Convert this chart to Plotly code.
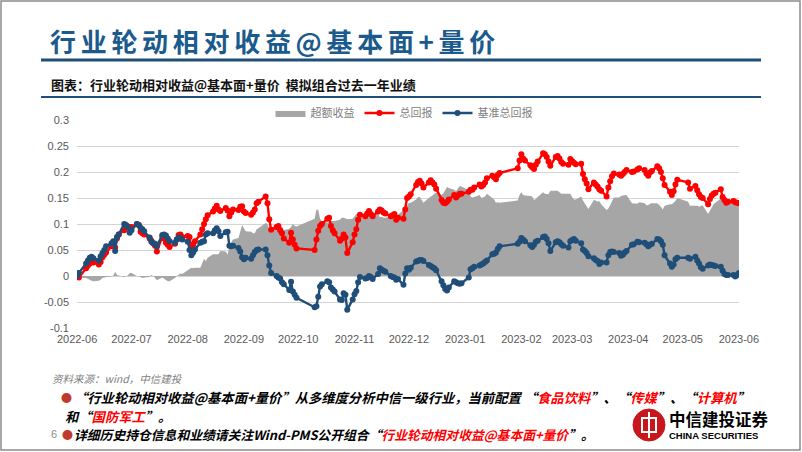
import pandas as pd
import plotly.graph_objects as go

# ---------------- data ----------------
holidays = ["2022-06-03", "2022-09-12", "2022-10-03", "2022-10-04", "2022-10-05",
            "2022-10-06", "2022-10-07", "2023-01-02", "2023-01-23", "2023-01-24",
            "2023-01-25", "2023-01-26", "2023-01-27", "2023-04-05", "2023-05-01",
            "2023-05-02", "2023-05-03"]
trade_dates = [d for d in pd.bdate_range("2022-06-01", "2023-06-01")
               if d.strftime("%Y-%m-%d") not in holidays]

total_return = [
    # 2022-06
    0, -0.003, 0.015, 0.02, 0.024, 0.028, 0.026, 0.022, 0.027, 0.036, 0.041, 0.045, 0.057, 0.064, 0.055, 0.072, 0.08, 0.088, 0.097, 0.095, 0.092,
    # 2022-07
    0.094, 0.1, 0.098, 0.085, 0.082, 0.08, 0.072, 0.068, 0.063, 0.058, 0.047, 0.076, 0.072, 0.064, 0.06, 0.056, 0.062, 0.07, 0.079, 0.08, 0.075,
    # 2022-08
    0.077, 0.075, 0.056, 0.06, 0.067, 0.08, 0.09, 0.1, 0.109, 0.117, 0.124, 0.13, 0.135, 0.128, 0.125, 0.131, 0.126, 0.115, 0.122, 0.128, 0.127, 0.133, 0.134,
    # 2022-09
    0.124, 0.121, 0.118, 0.122, 0.128, 0.14, 0.143, 0.153, 0.14, 0.109, 0.089, 0.094, 0.096, 0.088, 0.082, 0.072, 0.064, 0.083, 0.07, 0.06, 0.053,
    # 2022-10
    0.05, 0.07, 0.087, 0.096, 0.1, 0.11, 0.112, 0.096, 0.088, 0.082, 0.068, 0.072, 0.08, 0.074, 0.044, 0.065,
    # 2022-11
    0.08, 0.09, 0.108, 0.118, 0.115, 0.12, 0.125, 0.119, 0.115, 0.124, 0.128, 0.126, 0.122, 0.12, 0.115, 0.117, 0.119, 0.108, 0.112, 0.11, 0.128, 0.15,
    # 2022-12
    0.153, 0.157, 0.175, 0.181, 0.183, 0.178, 0.17, 0.18, 0.184, 0.18, 0.176, 0.168, 0.146, 0.141, 0.14, 0.143, 0.147, 0.156, 0.151, 0.155, 0.158, 0.158,
    # 2023-01
    0.162, 0.166, 0.166, 0.17, 0.176, 0.172, 0.175, 0.18, 0.188, 0.193, 0.19, 0.186, 0.194, 0.198, 0.207, 0.222,
    # 2023-02
    0.234, 0.226, 0.222, 0.213, 0.209, 0.206, 0.214, 0.22, 0.236, 0.234, 0.229, 0.22, 0.212, 0.229, 0.231, 0.226, 0.219, 0.216, 0.214, 0.225,
    # 2023-03
    0.221, 0.218, 0.215, 0.216, 0.196, 0.186, 0.178, 0.167, 0.18, 0.176, 0.172, 0.167, 0.164, 0.153, 0.17, 0.182, 0.192, 0.197, 0.195, 0.193, 0.196, 0.2, 0.204,
    # 2023-04
    0.2, 0.201, 0.205, 0.207, 0.204, 0.197, 0.193, 0.199, 0.202, 0.211, 0.207, 0.2, 0.188, 0.175, 0.162, 0.156, 0.163, 0.176, 0.185,
    # 2023-05 / 06-01
    0.18, 0.168, 0.173, 0.165, 0.157, 0.152, 0.15, 0.138, 0.148, 0.155, 0.158, 0.16, 0.167, 0.152, 0.146, 0.141, 0.143, 0.144, 0.142, 0.141,
    0.14,
]

benchmark_return = [
    # 2022-06
    0, 0.006, 0.024, 0.03, 0.035, 0.037, 0.034, 0.03, 0.038, 0.044, 0.05, 0.057, 0.063, 0.067, 0.048, 0.075, 0.08, 0.1, 0.098, 0.094, 0.083,
    # 2022-07
    0.088, 0.1, 0.098, 0.093, 0.09, 0.086, 0.074, 0.066, 0.063, 0.062, 0.057, 0.079, 0.08, 0.078, 0.072, 0.067, 0.064, 0.07, 0.074, 0.072, 0.07,
    # 2022-08
    0.066, 0.05, 0.04, 0.045, 0.051, 0.064, 0.066, 0.067, 0.08, 0.082, 0.082, 0.088, 0.092, 0.086, 0.077, 0.084, 0.085, 0.058, 0.057, 0.058, 0.054, 0.047, 0.036,
    # 2022-09
    0.032, 0.035, 0.033, 0.04, 0.046, 0.05, 0.051, 0.051, 0.04, 0.02, 0.006, 0.0, -0.003, -0.005, -0.012, -0.016, -0.027, -0.011, -0.03, -0.036, -0.042,
    # 2022-10
    -0.06, -0.058, -0.04, -0.02, -0.016, -0.01, -0.012, -0.022, -0.026, -0.03, -0.045, -0.046, -0.033, -0.036, -0.065, -0.045,
    # 2022-11
    -0.035, -0.029, -0.012, -0.002, -0.005, -0.004, 0.0, -0.002, -0.006, 0.004, 0.015, 0.012, 0.01, 0.008, 0.0, -0.002, -0.003, -0.007, -0.006, -0.017, 0.005, 0.015,
    # 2022-12
    0.012, 0.016, 0.028, 0.029, 0.031, 0.031, 0.029, 0.021, 0.019, 0.017, 0.015, 0.011, -0.01, -0.018, -0.025, -0.028, -0.022, -0.01, -0.012, -0.014, -0.015, -0.014,
    # 2023-01
    -0.003, 0.013, 0.015, 0.018, 0.02, 0.022, 0.024, 0.027, 0.03, 0.042, 0.043, 0.045, 0.052, 0.057, 0.062, 0.066,
    # 2023-02
    0.073, 0.07, 0.067, 0.059, 0.056, 0.06, 0.066, 0.068, 0.075, 0.076, 0.071, 0.063, 0.048, 0.065, 0.067, 0.065, 0.061, 0.058, 0.055, 0.067,
    # 2023-03
    0.069, 0.071, 0.068, 0.063, 0.051, 0.048, 0.044, 0.038, 0.034, 0.031, 0.029, 0.023, 0.026, 0.026, 0.04, 0.046, 0.047, 0.046, 0.044, 0.039, 0.041, 0.045, 0.048,
    # 2023-04
    0.06, 0.061, 0.066, 0.065, 0.064, 0.061, 0.057, 0.06, 0.062, 0.071, 0.07, 0.067, 0.06, 0.04, 0.024, 0.018, 0.022, 0.032, 0.035,
    # 2023-05 / 06-01
    0.035, 0.033, 0.037, 0.03, 0.024, 0.017, 0.014, 0.02, 0.022, 0.021, 0.02, 0.019, 0.018, 0.01, 0.004, 0.002, 0.002, 0.002, -0.001, 0.002,
    0.006,
]

excess_return = [
    # 2022-06
    0, -0.003, -0.004, -0.006, -0.008, -0.009, -0.01, -0.009, -0.007, -0.004, -0.003, -0.002, -0.001, 0.001, 0.008, 0.002, 0.001, -0.002, 0.0, 0.001, 0.006,
    # 2022-07
    0.006, 0.0, 0.0, -0.002, -0.004, -0.003, -0.002, 0.002, 0.0, -0.004, -0.008, -0.003, -0.005, -0.008, -0.01, -0.01, -0.004, 0.0, 0.003, 0.005, 0.004,
    # 2022-08
    0.011, 0.012, 0.016, 0.015, 0.016, 0.016, 0.024, 0.033, 0.029, 0.035, 0.042, 0.042, 0.043, 0.042, 0.048, 0.047, 0.041, 0.057, 0.065, 0.07, 0.073, 0.086, 0.098,
    # 2022-09
    0.092, 0.086, 0.085, 0.082, 0.082, 0.09, 0.092, 0.102, 0.1, 0.089, 0.083, 0.094, 0.099, 0.093, 0.094, 0.088, 0.091, 0.094, 0.1, 0.096, 0.095,
    # 2022-10
    0.11, 0.128, 0.127, 0.11, 0.105, 0.103, 0.104, 0.106, 0.106, 0.106, 0.108, 0.112, 0.112, 0.11, 0.109, 0.11,
    # 2022-11
    0.115, 0.119, 0.12, 0.12, 0.12, 0.124, 0.125, 0.121, 0.121, 0.12, 0.113, 0.114, 0.112, 0.112, 0.115, 0.119, 0.122, 0.115, 0.118, 0.127, 0.123, 0.135,
    # 2022-12
    0.141, 0.141, 0.147, 0.152, 0.152, 0.147, 0.141, 0.15, 0.152, 0.155, 0.158, 0.16, 0.156, 0.159, 0.165, 0.171, 0.169, 0.166, 0.163, 0.169, 0.173, 0.172,
    # 2023-01
    0.165, 0.153, 0.151, 0.152, 0.156, 0.15, 0.151, 0.153, 0.158, 0.151, 0.147, 0.141, 0.142, 0.141, 0.145, 0.156,
    # 2023-02
    0.161, 0.156, 0.155, 0.154, 0.153, 0.146, 0.148, 0.152, 0.161, 0.158, 0.158, 0.157, 0.164, 0.164, 0.164, 0.161, 0.158, 0.158, 0.159, 0.158,
    # 2023-03
    0.152, 0.147, 0.147, 0.153, 0.145, 0.138, 0.134, 0.129, 0.146, 0.145, 0.143, 0.144, 0.138, 0.127, 0.13, 0.136, 0.145, 0.151, 0.151, 0.154, 0.155, 0.155, 0.156,
    # 2023-04
    0.14, 0.14, 0.139, 0.142, 0.14, 0.136, 0.136, 0.139, 0.14, 0.14, 0.137, 0.133, 0.128, 0.135, 0.138, 0.138, 0.141, 0.144, 0.15,
    # 2023-05 / 06-01
    0.143, 0.135, 0.135, 0.135, 0.133, 0.135, 0.136, 0.119, 0.126, 0.134, 0.138, 0.141, 0.149, 0.145, 0.142, 0.139, 0.141, 0.142, 0.143, 0.139,
    0.133,
]

month_labels = ["2022-06", "2022-07", "2022-08", "2022-09", "2022-10", "2022-11", "2022-12",
                "2023-01", "2023-02", "2023-03", "2023-04", "2023-05", "2023-06"]
y_tick_values = [0.3, 0.25, 0.2, 0.15, 0.1, 0.05, 0, -0.05, -0.1]
y_tick_labels = ["0.3", "0.25", "0.2", "0.15", "0.1", "0.05", "0", "-0.05", "-0.1"]
series_names = ["超额收益", "总回报", "基准总回报"]

assert len(trade_dates) == len(total_return) == len(benchmark_return) == len(excess_return), (
    len(trade_dates), len(total_return), len(benchmark_return), len(excess_return))

# ---------------- figure ----------------
W, H = 802, 452
def px(x):
    return x / W
def py(y):
    return 1 - y / H

CJK = "Noto Sans CJK SC"
RED = "#ff0000"
BLUE = "#1f4e79"

fig = go.Figure()
fig.add_trace(go.Scatter(
    x=trade_dates, y=excess_return, name=series_names[0], mode="lines",
    line=dict(width=0, color="#a6a6a6"), fill="tozeroy", fillcolor="#a6a6a6",
))
fig.add_trace(go.Scatter(
    x=trade_dates, y=total_return, name=series_names[1], mode="lines+markers",
    line=dict(color=RED, width=2.4), marker=dict(size=6, color=RED),
))
fig.add_trace(go.Scatter(
    x=trade_dates, y=benchmark_return, name=series_names[2], mode="lines+markers",
    line=dict(color=BLUE, width=2.4), marker=dict(size=6, color=BLUE),
))

tick_dates = [pd.Timestamp(m + "-01") for m in month_labels]

fig.update_layout(
    width=W, height=H, autosize=False,
    margin=dict(l=0, r=0, t=0, b=0, pad=0, autoexpand=False),
    paper_bgcolor="white", plot_bgcolor="white",
    showlegend=True,
    legend=dict(orientation="h", x=px(404), xanchor="center", y=py(113), yanchor="middle",
                font=dict(family=CJK, size=11, color="#7f7f7f"),
                bgcolor="rgba(0,0,0,0)", itemwidth=30, tracegroupgap=0),
    xaxis=dict(
        type="date", domain=[px(77), px(739)], automargin=False,
        range=[pd.Timestamp("2022-05-31 23:00"), pd.Timestamp("2023-06-01 01:00")],
        tickvals=tick_dates, ticktext=month_labels,
        showgrid=False, zeroline=False, showline=False, ticks="",
        tickfont=dict(family="Liberation Sans, Arial", size=11, color="#595959"),
        ticklabelstandoff=3,
    ),
    yaxis=dict(
        domain=[py(328), py(120)], range=[-0.1, 0.3], automargin=False,
        tickvals=y_tick_values, ticktext=y_tick_labels,
        showgrid=True, gridcolor="#d4d4d4", gridwidth=1.3,
        zeroline=False, showline=False, ticks="",
        tickfont=dict(family="Liberation Sans, Arial", size=11, color="#595959"),
        ticklabelstandoff=7,
    ),
)

shapes = [
    # slide border
    dict(type="rect", xref="paper", yref="paper", x0=px(1), x1=px(800), y0=py(450), y1=py(1),
         line=dict(color="#8c8c8c", width=1.5), fillcolor="rgba(0,0,0,0)", layer="below"),
    # title underline
    dict(type="line", xref="paper", yref="paper", x0=px(41), x1=px(761), y0=py(60), y1=py(60),
         line=dict(color="#1f4e79", width=3)),
    # subtitle underline
    dict(type="line", xref="paper", yref="paper", x0=px(41), x1=px(761), y0=py(97), y1=py(97),
         line=dict(color="#1f4e79", width=2)),
    # logo circle
    dict(type="circle", xref="paper", yref="paper", x0=px(633), x1=px(665), y0=py(441), y1=py(409),
         line=dict(color="#c8161d", width=1), fillcolor="#c8161d"),
    dict(type="rect", xref="paper", yref="paper", x0=px(642), x1=px(656), y0=py(432), y1=py(418),
         line=dict(color="white", width=2), fillcolor="rgba(0,0,0,0)"),
    dict(type="line", xref="paper", yref="paper", x0=px(649), x1=px(649), y0=py(438), y1=py(412),
         line=dict(color="white", width=2)),
]
fig.update_layout(shapes=shapes)

def note(text, x, y, size, color="black", family=CJK, weight="normal", anchor="left", style="normal"):
    fig.add_annotation(text=text, xref="paper", yref="paper", x=px(x), y=py(y),
                       xanchor=anchor, yanchor="middle", showarrow=False,
                       font=dict(family=family, size=size, color=color, weight=weight, style=style))

note('<span style="letter-spacing:4.7px">行业轮动相对收益@基本面+量价</span>', 48, 41, 26,
     color="#1b5a8c", weight="bold")
note("图表：行业轮动相对收益@基本面+量价  模拟组合过去一年业绩", 49, 84, 13, color="#111111", weight="bold")
note("资料来源：wind，中信建投", 50, 378, 10.5, color="#7f7f7f", style="italic")

R = lambda s: f'<span style="color:{RED}">{s}</span>'
note("●", 59, 397, 11, color="#c0392b")
note("“行业轮动相对收益@基本面+量价”从多维度分析中信一级行业，当前配置 “" + R("食品饮料") + "”、“"
     + R("传媒") + "”、“" + R("计算机") + "”", 72, 397, 13.3, weight="bold", style="italic")
note("和“" + R("国防军工") + "”。", 63, 416, 13.3, weight="bold", style="italic")
note("6", 49, 434, 11, color="#8c8c8c", family="Liberation Sans, Arial")
note("●", 60, 434, 11, color="#c0392b")
note("详细历史持仓信息和业绩请关注Wind-PMS公开组合“" + R("行业轮动相对收益@基本面+量价") + "”。",
     72, 434, 12.8, weight="bold", style="italic")

# logo text
note("中信建投证券", 667, 419, 16.5, weight="bold")
note("CHINA SECURITIES", 667, 435, 9.5, family="Liberation Sans, Arial", weight="bold")

fig.write_html("out.html", config={"displayModeBar": False},
               post_script="document.body.style.margin='0';document.body.style.overflow='hidden';")
